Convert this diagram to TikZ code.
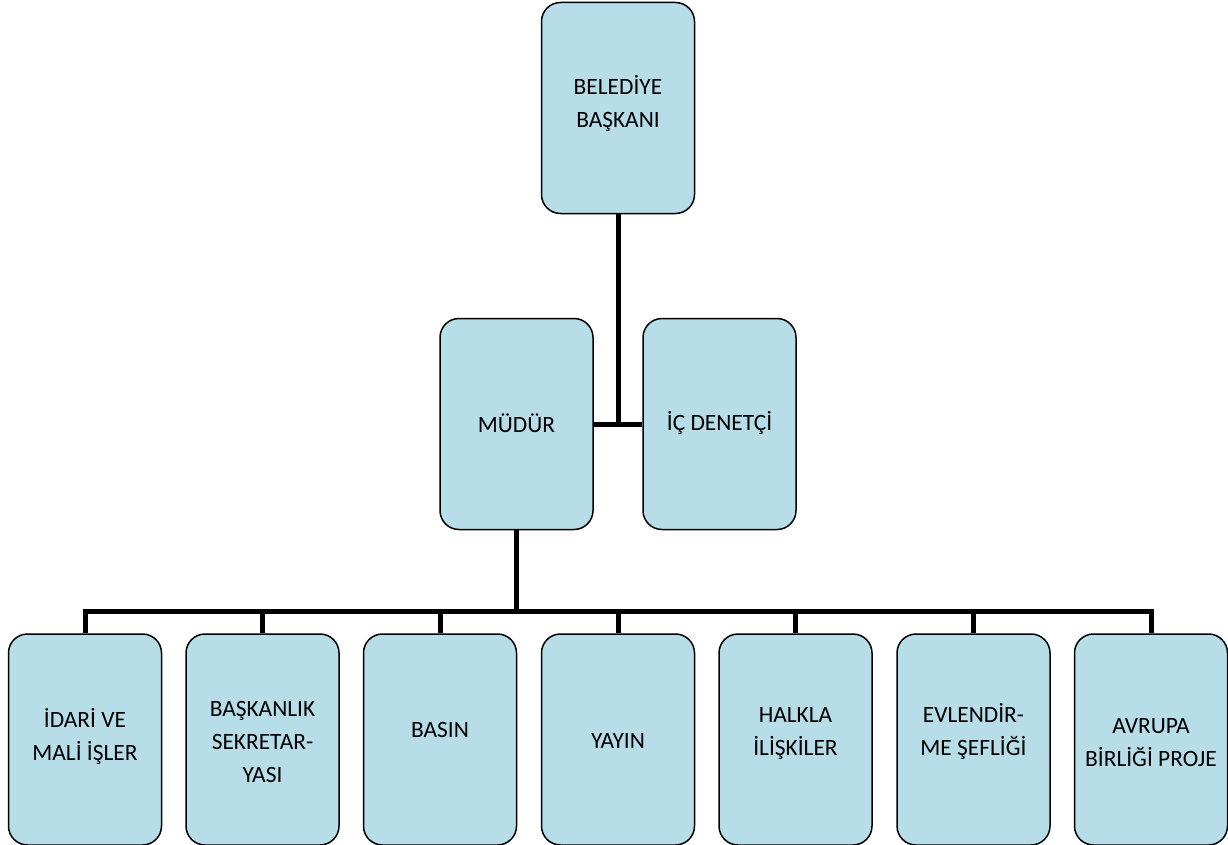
\documentclass[tikz,border=0pt]{standalone}
\usepackage{fontspec}
\setmainfont{Carlito}
\usetikzlibrary{calc}
\definecolor{boxfill}{HTML}{B7DEE8}
\tikzset{
  orgbox/.style={draw=black, line width=1.5pt, fill=boxfill, rounded corners=19pt,
    minimum width=153pt, minimum height=211pt, inner sep=0pt},
  % anchored at the baseline of the last line
  boxtext/.style={anchor=base, align=center, inner sep=0pt,
    font=\fontsize{23.4}{33}\selectfont},
  link/.style={line width=5pt, line join=miter}
}
\begin{document}
\begin{tikzpicture}[x=1pt,y=-1pt]
  \path[use as bounding box] (0,0) rectangle (1228,845);
  % boxes
  \node[orgbox] (top)   at (618,108) {};
  \node[orgbox] (mgr)   at (516.5,424) {};
  \node[orgbox] (audit) at (719.5,424) {};
  \foreach \i/\x in {1/85,2/262.5,3/440,4/618,5/795.5,6/973.5,7/1151}
    \node[orgbox] (b\i) at (\x,739.5) {};
  % labels
  \node[boxtext] (ttop)   at (618,128)   {BELEDİYE\\BAŞKANI};
  \node[boxtext] (tmgr)   at (516.5,432) {MÜDÜR};
  \node[boxtext] (taudit) at (719.5,430) {İÇ DENETÇİ};
  \node[boxtext] (t1) at (85,760)    {İDARİ VE\\MALİ İŞLER};
  \node[boxtext] (t2) at (262.5,782) {BAŞKANLIK\\SEKRETAR-\\YASI};
  \node[boxtext] (t3) at (440,737)   {BASIN};
  \node[boxtext] (t4) at (618,748)   {YAYIN};
  \node[boxtext] (t5) at (795.5,755) {HALKLA\\İLİŞKİLER};
  \node[boxtext] (t6) at (973.5,755) {EVLENDİR-\\ME ŞEFLİĞİ};
  \node[boxtext] (t7) at (1151,766)  {AVRUPA\\BİRLİĞİ PROJE};
  % connectors
  \coordinate (bus) at (0,611);
  \draw[link] (top.south) -- (top.south |- mgr.east);
  \draw[link] (mgr.east) -- (audit.west);
  \draw[link] (mgr.south) -- (mgr.south |- bus);
  \draw[link] (b1.north) -- (b1.north |- bus) -- (b7.north |- bus) -- (b7.north);
  \foreach \i in {2,...,6}
    \draw[link] (b\i.north) -- (b\i.north |- bus);
\end{tikzpicture}
\end{document}
